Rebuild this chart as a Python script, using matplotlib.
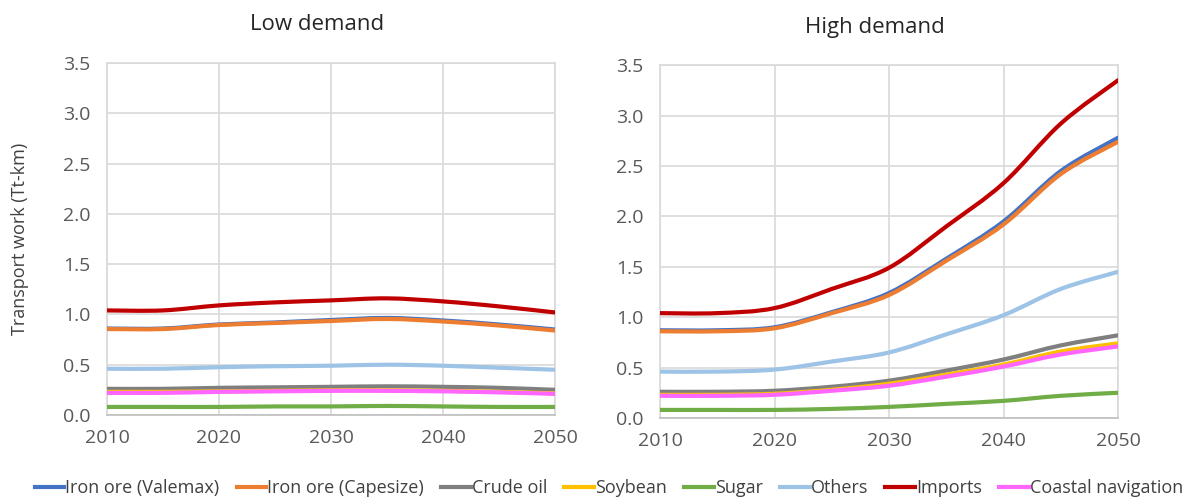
import numpy as np
import matplotlib.pyplot as plt
from matplotlib.path import Path
from matplotlib.patches import PathPatch
from matplotlib.lines import Line2D

plt.rcParams['font.family'] = ['Open Sans', 'DejaVu Sans']

years = [2010, 2015, 2020, 2025, 2030, 2035, 2040, 2045, 2050]
series_names = ['Iron ore (Valemax)', 'Iron ore (Capesize)', 'Crude oil', 'Soybean',
                'Sugar', 'Others', 'Imports', 'Coastal navigation']
colors = ['#4472C4', '#ED7D31', '#7F7F7F', '#FFC000',
          '#70AD47', '#9DC3E6', '#C00000', '#FF66FF']

# Tt-km, low demand scenario
low_valemax = [0.86, 0.86, 0.90, 0.92, 0.945, 0.965, 0.94, 0.90, 0.85]
low_capesize = [0.855, 0.855, 0.895, 0.915, 0.935, 0.955, 0.93, 0.89, 0.84]
low_crude = [0.26, 0.26, 0.27, 0.275, 0.28, 0.285, 0.28, 0.27, 0.25]
low_soybean = [0.23, 0.23, 0.235, 0.24, 0.245, 0.245, 0.24, 0.23, 0.215]
low_sugar = [0.08, 0.08, 0.08, 0.085, 0.085, 0.09, 0.085, 0.08, 0.08]
low_others = [0.46, 0.46, 0.475, 0.485, 0.49, 0.50, 0.49, 0.47, 0.45]
low_imports = [1.04, 1.04, 1.09, 1.12, 1.14, 1.16, 1.13, 1.08, 1.02]
low_coastal = [0.22, 0.22, 0.23, 0.235, 0.24, 0.24, 0.235, 0.225, 0.21]

# Tt-km, high demand scenario
high_valemax = [0.87, 0.87, 0.90, 1.05, 1.24, 1.58, 1.95, 2.45, 2.78]
high_capesize = [0.86, 0.86, 0.89, 1.04, 1.22, 1.56, 1.92, 2.42, 2.74]
high_crude = [0.26, 0.26, 0.27, 0.31, 0.37, 0.47, 0.58, 0.72, 0.82]
high_soybean = [0.23, 0.23, 0.24, 0.28, 0.34, 0.43, 0.53, 0.66, 0.74]
high_sugar = [0.08, 0.08, 0.08, 0.09, 0.11, 0.14, 0.17, 0.22, 0.25]
high_others = [0.46, 0.46, 0.48, 0.56, 0.65, 0.83, 1.02, 1.28, 1.45]
high_imports = [1.04, 1.04, 1.09, 1.28, 1.49, 1.90, 2.33, 2.92, 3.35]
high_coastal = [0.22, 0.22, 0.23, 0.27, 0.32, 0.41, 0.51, 0.63, 0.71]

low = [low_valemax, low_capesize, low_crude, low_soybean,
       low_sugar, low_others, low_imports, low_coastal]
high = [high_valemax, high_capesize, high_crude, high_soybean,
        high_sugar, high_others, high_imports, high_coastal]


def smooth_path(x, y):
    # Catmull-Rom style cubic Bezier through the data points (Excel "smoothed line")
    pts = np.column_stack([x, y]).astype(float)
    n = len(pts)
    verts = [pts[0]]
    codes = [Path.MOVETO]
    for i in range(n - 1):
        p0 = pts[max(i - 1, 0)]
        p1 = pts[i]
        p2 = pts[i + 1]
        p3 = pts[min(i + 2, n - 1)]
        c1 = p1 + (p2 - p0) / 6.0
        c2 = p2 - (p3 - p1) / 6.0
        verts += [c1, c2, p2]
        codes += [Path.CURVE4] * 3
    return Path(verts, codes)


def draw_panel(ax, data, title, title_x, title_pad):
    for vals, c in zip(data, colors):
        patch = PathPatch(smooth_path(years, vals), facecolor='none', edgecolor=c,
                          lw=3.0, capstyle='round', joinstyle='round', zorder=3)
        ax.add_patch(patch)
    ax.set_xlim(2010, 2050)
    ax.set_ylim(0, 3.5)
    ax.set_xticks([2010, 2020, 2030, 2040, 2050])
    ax.set_yticks(np.arange(0, 3.51, 0.5))
    ax.yaxis.set_major_formatter(plt.FormatStrFormatter('%.1f'))
    ax.grid(True, color='#D9D9D9', lw=1.2)
    ax.set_axisbelow(True)
    for s in ['top', 'right', 'left']:
        ax.spines[s].set_color('#D9D9D9')
        ax.spines[s].set_linewidth(1.2)
    ax.spines['bottom'].set_color('#BFBFBF')
    ax.spines['bottom'].set_linewidth(1.2)
    ax.tick_params(length=0, labelsize=14, colors='#595959')
    ax.tick_params(axis='y', pad=12)
    ax.tick_params(axis='x', pad=10)
    ax.set_title(title, fontsize=16, color='#262626', x=title_x, pad=title_pad)


fig = plt.figure(figsize=(11.82, 5.01), dpi=100)
ax1 = fig.add_axes([0.0905, 0.1717, 0.379, 0.7023])
ax2 = fig.add_axes([0.5584, 0.1657, 0.3875, 0.7043])

draw_panel(ax1, low, 'Low demand', 0.47, 24)
draw_panel(ax2, high, 'High demand', 0.47, 23)
ax1.set_ylabel('Transport work (Tt-km)', fontsize=13, color='#404040', labelpad=24)

handles = [Line2D([0], [0], color=c, lw=3) for c in colors]
fig.legend(handles, series_names, loc='center', bbox_to_anchor=(0.515, 0.026), ncol=8,
           frameon=False, fontsize=13, handlelength=1.65, handletextpad=0.05,
           columnspacing=0.95, labelcolor='#404040')

fig.savefig('out.png', dpi=100)
